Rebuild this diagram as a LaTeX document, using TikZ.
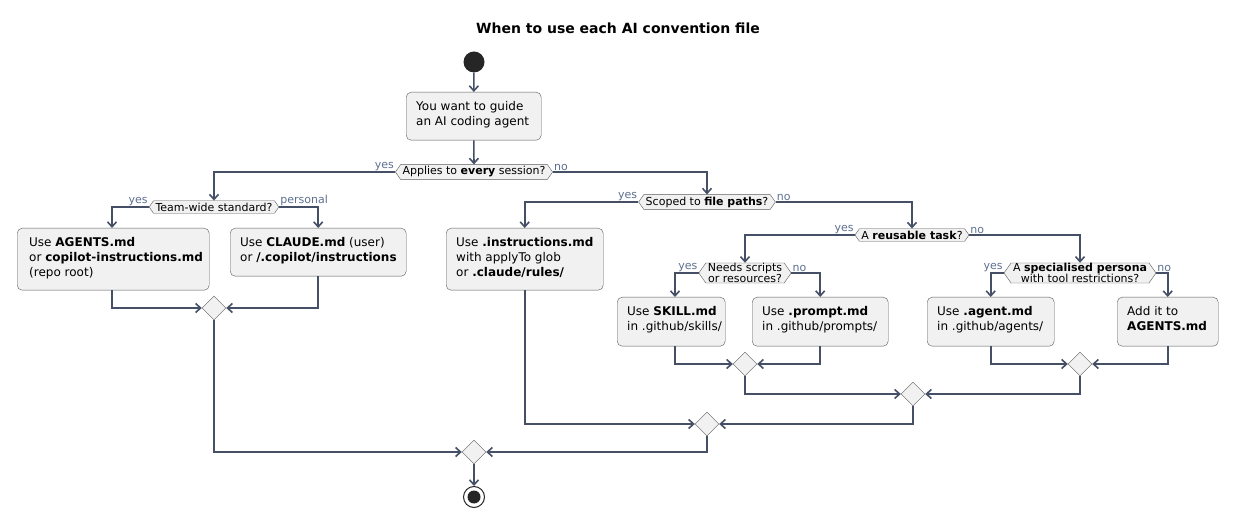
\documentclass[tikz,border=0pt]{standalone}
\usepackage{fontspec}
\setmainfont{DejaVu Sans}
\usetikzlibrary{calc,positioning,arrows.meta,shapes.geometric,shapes.symbols}
\definecolor{flow}{HTML}{454F66}
\definecolor{lbl}{HTML}{5E7090}
\definecolor{boxfill}{HTML}{F1F1F1}
\definecolor{boxline}{HTML}{5B5B5B}
\tikzset{
  act/.style={draw=boxline,fill=boxfill,rounded corners=5pt,anchor=north west,inner sep=0pt},
  acttext/.style={anchor=north west,align=left,inner sep=0pt,font=\fontsize{12}{15}\selectfont},
  dec/.style={draw=boxline,fill=boxfill,shape=signal,signal to=west and east,
    signal pointer angle=110,inner xsep=2pt,inner ysep=2pt,align=center,
    font=\fontsize{11}{12}\selectfont},
  merge/.style={draw=boxline,fill=boxfill,diamond,minimum size=24pt,inner sep=0pt},
  flow/.style={draw=flow,line width=1.6pt,-{Straight Barb[length=5pt,width=9pt]}},
  lab/.style={text=lbl,font=\fontsize{11}{12}\selectfont,inner sep=1pt}
}
\begin{document}
\begin{tikzpicture}[x=1pt,y=-1pt]
  \useasboundingbox[fill=white] (0,0) rectangle (1237,526);
  \node [font=\bfseries\fontsize{14}{16}\selectfont] at (618,28) (title) {When to use each AI convention file};

  \node [circle,fill=black!85,minimum size=21pt,inner sep=0pt] at (474,62) (start) {};
  \node [act,minimum width=135pt,minimum height=48pt] at (406,92) (guide) {};
  \node [acttext] at (416,101) {You want to guide\\an AI coding agent};

  \node [dec] at (474,172) (every) {Applies to \textbf{every} session?};
  \node [dec] at (214,207) (team) {Team-wide standard?};
  \node [dec] at (707,202) (scoped) {Scoped to \textbf{file paths}?};
  \node [dec] at (912,235) (reuse) {A \textbf{reusable task}?};
  \node [dec,font=\fontsize{11}{11.5}\selectfont,inner ysep=0pt] at (745,273) (scripts) {Needs scripts\\or resources?};
  \node [dec,font=\fontsize{11}{11.5}\selectfont,inner ysep=0pt] at (1080,273) (persona) {A \textbf{specialised persona}\\with tool restrictions?};

  % actions
  \node [act,minimum width=192pt,minimum height=62pt] at (17,228) (agents) {};
  \node [acttext] at (29,237) {Use \textbf{AGENTS.md}\\or \textbf{copilot-instructions.md}\\(repo root)};
  \node [act,minimum width=176pt,minimum height=48pt] at (230,228) (claude) {};
  \node [acttext] at (240,237) {Use \textbf{CLAUDE.md} (user)\\or \textbf{/.copilot/instructions}};
  \node [act,minimum width=157pt,minimum height=62pt] at (446,228) (instr) {};
  \node [acttext] at (456,237) {Use \textbf{.instructions.md}\\with applyTo glob\\or \textbf{.claude/rules/}};
  \node [act,minimum width=108pt,minimum height=49pt] at (617,297) (skill) {};
  \node [acttext] at (627,306) {Use \textbf{SKILL.md}\\in .github/skills/};
  \node [act,minimum width=136pt,minimum height=49pt] at (752,297) (prompt) {};
  \node [acttext] at (762,306) {Use \textbf{.prompt.md}\\in .github/prompts/};
  \node [act,minimum width=127pt,minimum height=49pt] at (927,297) (agent) {};
  \node [acttext] at (937,306) {Use \textbf{.agent.md}\\in .github/agents/};
  \node [act,minimum width=101pt,minimum height=49pt] at (1117,297) (addto) {};
  \node [acttext] at (1127,306) {Add it to\\\textbf{AGENTS.md}};

  % merges
  \node [merge] at (214,308) (m1) {};
  \node [merge] at (745,364) (m5) {};
  \node [merge] at (1080,364) (m6) {};
  \node [merge] at (913,394) (m4) {};
  \node [merge] at (707,424) (m3) {};
  \node [merge] at (474,452) (mall) {};
  \node [circle,draw=black!85,line width=1pt,minimum size=21pt,inner sep=0pt] at (474,497) (stop) {};
  \node [circle,fill=black!85,minimum size=13pt,inner sep=0pt] at (stop) {};

  % connectors
  \draw [flow] (start) -- (guide);
  \draw [flow] (guide) -- (every);
  \draw [flow] (every.west) -| (team.north);
  \draw [flow] (every.east) -| (scoped.north);
  \draw [flow] (team.west) -| (agents.north -| 112,0);
  \draw [flow] (team.east) -| (claude.north);
  \draw [flow] (scoped.west) -| (instr.north);
  \draw [flow] (scoped.east) -| (reuse.north);
  \draw [flow] (reuse.west) -| (scripts.north);
  \draw [flow] (reuse.east) -| (persona.north);
  \draw [flow] (scripts.west) -| (skill.north -| 675,0);
  \draw [flow] (scripts.east) -| (prompt.north);
  \draw [flow] (persona.west) -| (agent.north);
  \draw [flow] (persona.east) -| (addto.north);
  \draw [flow] (agents.south -| 112,0) |- (m1.west);
  \draw [flow] (claude.south) |- (m1.east);
  \draw [flow] (skill.south -| 675,0) |- (m5.west);
  \draw [flow] (prompt.south) |- (m5.east);
  \draw [flow] (agent.south) |- (m6.west);
  \draw [flow] (addto.south) |- (m6.east);
  \draw [flow] (m5.south) |- (m4.west);
  \draw [flow] (m6.south) |- (m4.east);
  \draw [flow] (instr.south) |- (m3.west);
  \draw [flow] (m4.south) |- (m3.east);
  \draw [flow] (m1.south) |- (mall.west);
  \draw [flow] (m3.south) |- (mall.east);
  \draw [flow] (mall) -- (stop);

  % branch labels
  \node [lab,anchor=south east] at (every.west) {yes};
  \node [lab,anchor=south west] at (every.east) {no};
  \node [lab,anchor=south east] at (team.west) {yes};
  \node [lab,anchor=south west] at (team.east) {personal};
  \node [lab,anchor=south east] at (scoped.west) {yes};
  \node [lab,anchor=south west] at (scoped.east) {no};
  \node [lab,anchor=south east] at (reuse.west) {yes};
  \node [lab,anchor=south west] at (reuse.east) {no};
  \node [lab,anchor=south east] at (scripts.west) {yes};
  \node [lab,anchor=south west] at (scripts.east) {no};
  \node [lab,anchor=south east] at (persona.west) {yes};
  \node [lab,anchor=south west] at (persona.east) {no};
\end{tikzpicture}
\end{document}
